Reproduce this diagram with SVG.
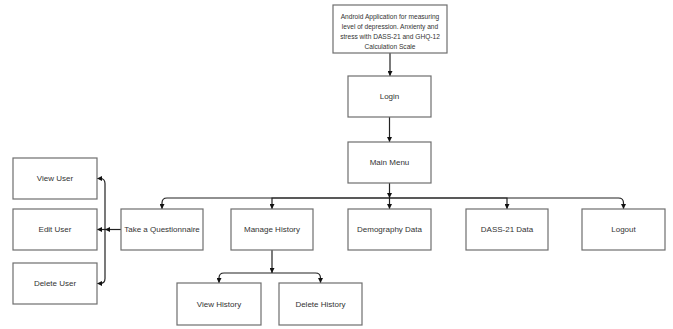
<svg xmlns="http://www.w3.org/2000/svg" width="673" height="329" viewBox="0 0 673 329">
<style>
.box{fill:#fff;stroke:#6e6e6e;stroke-width:1.2}
.lbl{font-family:"Liberation Sans",Arial,sans-serif;font-size:8px;fill:#333;text-anchor:middle;dominant-baseline:central}
.small{font-size:6.6px}
.edge{fill:none;stroke:#222;stroke-width:1.2;marker-end:url(#arr)}
</style>
<defs>
<marker id="arr" viewBox="0 0 6 6" refX="6" refY="3" markerWidth="5" markerHeight="5" markerUnits="userSpaceOnUse" orient="auto">
<path d="M0,0 L6,3 L0,6 z" fill="#111"/>
</marker>
</defs>
<rect width="673" height="329" fill="#fff"/>
<g id="connectors">
<path class="edge" d="M390,53 V76"/>
<path class="edge" d="M389.5,117 V142"/>
<path class="edge" d="M389.5,183 V198"/>
<path class="edge" d="M389.5,198 H167 Q162,198 162,203 V209"/>
<path class="edge" d="M389.5,198 H272 V209"/>
<path class="edge" d="M389.5,198 V209"/>
<path class="edge" d="M389.5,198 H507 V209"/>
<path class="edge" d="M389.5,198 H618.5 Q623.5,198 623.5,203 V209"/>
<path class="edge" d="M121,229.5 H105"/>
<path class="edge" d="M105,229.5 H97"/>
<path class="edge" d="M105,229.5 V183.5 Q105,178.5 100,178.5 H97"/>
<path class="edge" d="M105,229.5 V278.5 Q105,283.5 100,283.5 H97"/>
<path class="edge" d="M272,250 V273"/>
<path class="edge" d="M272,273 H224 Q219,273 219,278 V283"/>
<path class="edge" d="M272,273 H315.5 Q320.5,273 320.5,278 V283"/>
</g>
<g id="app">
<rect class="box" x="333" y="5" width="114" height="48"/>
<text class="lbl small" x="390" y="16">Android Application for measuring</text>
<text class="lbl small" x="390" y="26">level of depression. Anxienty and</text>
<text class="lbl small" x="390" y="36">stress with DASS-21 and GHQ-12</text>
<text class="lbl small" x="390" y="46">Calculation Scale</text>
</g>
<g id="login">
<rect class="box" x="348" y="76" width="83" height="41"/>
<text class="lbl" x="389.5" y="96.5">Login</text>
</g>
<g id="mainmenu">
<rect class="box" x="348" y="142" width="83" height="41"/>
<text class="lbl" x="389.5" y="162.5">Main Menu</text>
</g>
<g id="questionnaire">
<rect class="box" x="121" y="209" width="82" height="41"/>
<text class="lbl" x="162" y="229.5">Take a Questionnaire</text>
</g>
<g id="managehistory">
<rect class="box" x="231" y="209" width="82" height="41"/>
<text class="lbl" x="272" y="229.5">Manage History</text>
</g>
<g id="demography">
<rect class="box" x="348" y="209" width="83" height="41"/>
<text class="lbl" x="389.5" y="229.5">Demography Data</text>
</g>
<g id="dass">
<rect class="box" x="466" y="209" width="82" height="41"/>
<text class="lbl" x="507" y="229.5">DASS-21 Data</text>
</g>
<g id="logout">
<rect class="box" x="582" y="209" width="83" height="41"/>
<text class="lbl" x="623.5" y="229.5">Logout</text>
</g>
<g id="viewuser">
<rect class="box" x="13" y="158" width="84" height="41"/>
<text class="lbl" x="55" y="178.5">View User</text>
</g>
<g id="edituser">
<rect class="box" x="13" y="209" width="84" height="41"/>
<text class="lbl" x="55" y="229.5">Edit User</text>
</g>
<g id="deleteuser">
<rect class="box" x="13" y="263" width="84" height="41"/>
<text class="lbl" x="55" y="283.5">Delete User</text>
</g>
<g id="viewhistory">
<rect class="box" x="177" y="283" width="84" height="42"/>
<text class="lbl" x="219" y="304">View History</text>
</g>
<g id="deletehistory">
<rect class="box" x="279" y="283" width="83" height="42"/>
<text class="lbl" x="320.5" y="304">Delete History</text>
</g>
</svg>
